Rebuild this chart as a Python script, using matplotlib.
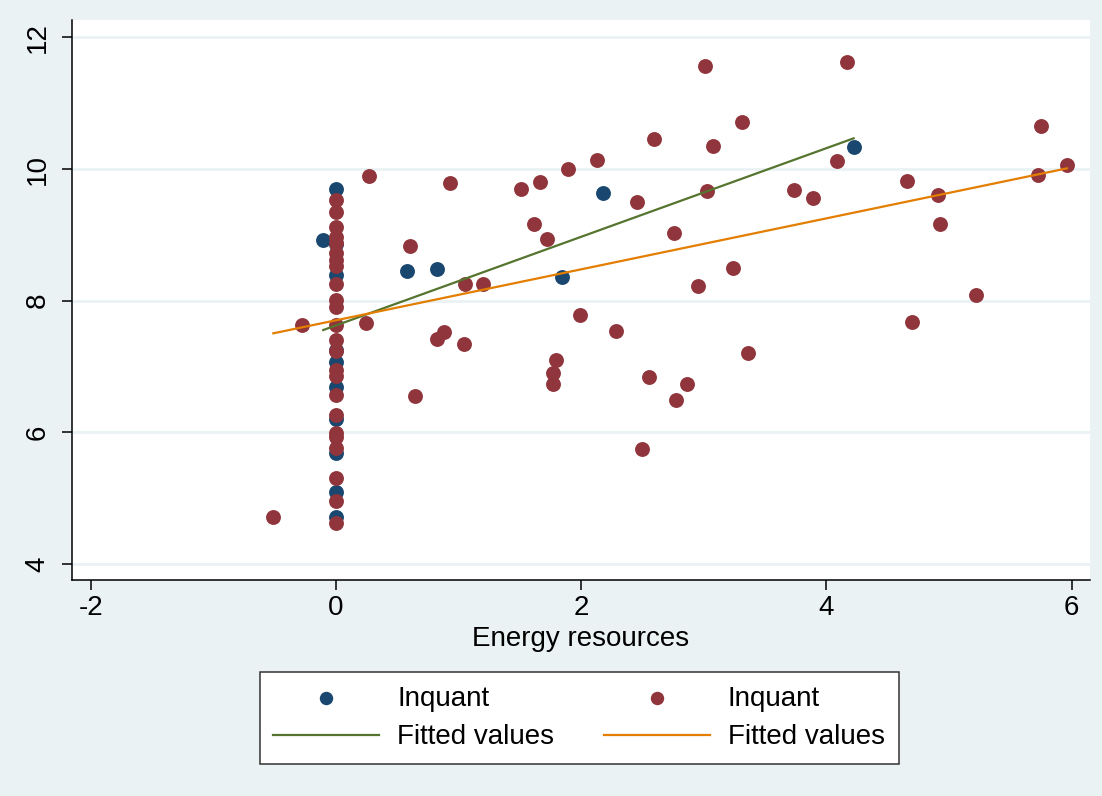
import matplotlib.pyplot as plt

# blue group (Inquant)
blue_x = [-0.109, 0, 0, 0, 0, 0, 0, 0, 0, 0, 0,
          0.577, 0.824, 1.841, 2.175, 4.222]
blue_y = [8.92, 9.69, 8.86, 8.39, 7.25, 7.07, 6.69, 6.21, 5.68, 5.09, 4.72,
          8.45, 8.48, 8.36, 9.63, 10.34]

# red group (Inquant)
red_x = [0, 0, 0, 0, 0, 0, 0, 0, 0, 0, 0, 0,
         0, 0, 0, 0, 0, 0, 0, 0, 0, 0, 0, 0,
         -0.514, -0.277, 0.245, 0.267, 0.604, 0.644, 0.821, 0.881, 0.932,
         1.042, 1.055, 1.2, 1.506, 1.618, 1.661, 1.724, 1.77, 1.77, 1.792,
         1.895, 1.993, 2.126, 2.286, 2.455, 2.498, 2.556, 2.594, 2.76,
         2.776, 2.866, 2.95, 3.01, 3.023, 3.072, 3.235, 3.309, 3.363,
         3.733, 3.891, 4.084, 4.165, 4.655, 4.696, 4.913, 4.927, 5.223,
         5.728, 5.75, 5.962]
red_y = [9.53, 9.35, 9.12, 8.97, 8.87, 8.72, 8.62, 8.52, 8.26, 8.01, 7.91, 7.63,
         7.40, 7.23, 6.95, 6.85, 6.57, 6.26, 5.99, 5.93, 5.76, 5.31, 4.96, 4.62,
         4.72, 7.63, 7.66, 9.89, 8.83, 6.56, 7.42, 7.53, 9.79,
         7.34, 8.25, 8.26, 9.69, 9.17, 9.80, 8.93, 6.91, 6.74, 7.10,
         10.0, 7.78, 10.13, 7.54, 9.50, 5.75, 6.84, 10.45, 9.03,
         6.50, 6.73, 8.23, 11.56, 9.66, 10.35, 8.50, 10.71, 7.20,
         9.68, 9.56, 10.12, 11.62, 9.82, 7.67, 9.61, 9.17, 8.09,
         9.91, 10.65, 10.06]

# fitted lines (end points)
fit_blue_x = [-0.104, 4.222]
fit_blue_y = [7.555, 10.466]
fit_red_x = [-0.511, 5.962]
fit_red_y = [7.505, 10.01]

xticks = [-2, 0, 2, 4, 6]
yticks = [4, 6, 8, 10, 12]

bg = '#EAF2F3'
plt.rcParams['font.family'] = ['Liberation Sans', 'DejaVu Sans']
plt.rcParams['axes.unicode_minus'] = False

fig = plt.figure(figsize=(11.02, 7.96), dpi=100, facecolor=bg)
ax = fig.add_axes([72/1102, 1 - 580/796, (1090 - 72)/1102, (580 - 20)/796])
ax.set_facecolor('white')

ax.scatter(blue_x, blue_y, s=115, color='#1A476F', linewidths=0, label='Inquant', zorder=3)
ax.plot(fit_blue_x, fit_blue_y, color='#55752F', lw=1.6, label='Fitted values', zorder=4)
ax.scatter(red_x, red_y, s=115, color='#90353B', linewidths=0, label='Inquant', zorder=3)
ax.plot(fit_red_x, fit_red_y, color='#E37E00', lw=1.6, label='Fitted values', zorder=4)

ax.set_xlim(-2.153, 6.150)
ax.set_ylim(3.759, 12.263)
ax.set_xticks(xticks)
ax.set_yticks(yticks)
ax.grid(axis='y', color=bg, lw=2)
ax.set_axisbelow(True)

for s in ['top', 'right']:
    ax.spines[s].set_visible(False)
for s in ['left', 'bottom']:
    ax.spines[s].set_linewidth(1.1)

ax.tick_params(direction='out', length=7.5, width=1.1, labelsize=20)
ax.tick_params(axis='y', pad=8)
ax.tick_params(axis='x', pad=3)
plt.setp(ax.get_yticklabels(), rotation=90, va='center')
ax.set_xlabel('Energy resources', fontsize=20, labelpad=4)

h, l = ax.get_legend_handles_labels()
leg = fig.legend([h[0], h[1], h[2], h[3]], [l[0], l[1], l[2], l[3]],
                 ncol=2, loc='center', bbox_to_anchor=(579/1102, 1 - 718/796),
                 fontsize=20, frameon=True, fancybox=False, edgecolor='#333333',
                 facecolor='white', framealpha=1,
                 handlelength=3.8, handletextpad=0.65, columnspacing=1.8,
                 labelspacing=0.45, borderpad=0.5, markerscale=0.9)
leg.get_frame().set_linewidth(1.1)

fig.savefig('out.png', dpi=100, facecolor=bg)
